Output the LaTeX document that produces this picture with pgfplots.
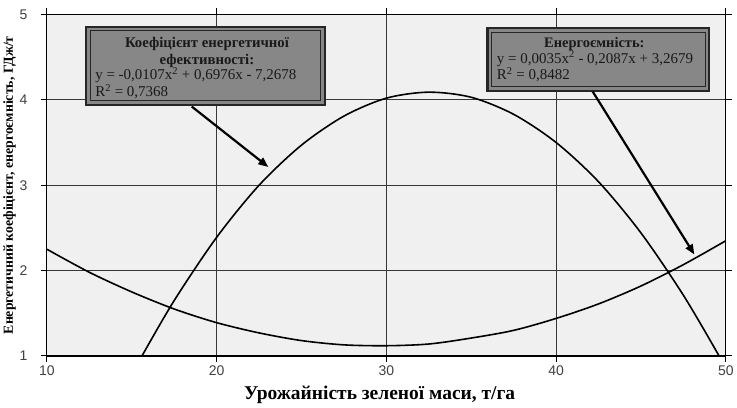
\documentclass[border=0pt]{standalone}
\usepackage{pgfplots}
\pgfplotsset{compat=1.18}
\usepackage{fontspec}
\setmainfont{Liberation Serif}
\newfontfamily\arialf{Liberation Sans}
\usetikzlibrary{arrows.meta}
\definecolor{plotbg}{RGB}{240,240,240}
\definecolor{boxfill}{RGB}{135,135,135}
\definecolor{gridc}{RGB}{55,55,55}
\begin{document}
\begin{tikzpicture}
\begin{axis}[
  scale only axis,
  width=680pt, height=342pt,
  xmin=10, xmax=50, ymin=1, ymax=5,
  xtick={10,20,30,40,50}, ytick={1,2,3,4,5},
  grid=major,
  major grid style={gridc, line width=1.1pt},
  axis line style={black, line width=1.1pt},
  tick style={black, line width=1pt},
  tick align=outside,
  major tick length=6pt,
  axis background/.style={fill=plotbg},
  ticklabel style={font=\arialf\fontsize{14}{14}\selectfont, text=black!75},
  yticklabel style={xshift=-10pt},
  /pgf/number format/assume math mode=true,
  xlabel={\textbf{Урожайність зеленої маси, т/га}},
  xlabel style={font=\fontsize{19.5}{19.5}\selectfont, at={(axis description cs:0.49,0)}, anchor=center, yshift=-39pt},
  ylabel={\textbf{Енергетичний коефіцієнт, енергоємність, ГДж/т}},
  ylabel style={font=\fontsize{13.8}{13.8}\selectfont, at={(axis description cs:-0.055,0.5)}, anchor=center},
  clip=true,
]
% energy efficiency coefficient
\addplot[black, line width=1.6pt, smooth] coordinates {
 (15.6,1.00) (17.5,1.65) (20,2.39) (22.5,3.00) (25,3.47) (27.5,3.81)
 (30,4.02) (32.5,4.09) (35,4.03) (37.5,3.83) (40,3.50) (42.5,3.04)
 (45,2.44) (47.5,1.71) (49.6,1.00)
};
% energy intensity
\addplot[black, line width=1.6pt, smooth] coordinates {
 (10,2.25) (12.5,1.98) (15,1.75) (17.5,1.55) (20,1.39) (22.5,1.27)
 (25,1.18) (27.5,1.13) (30,1.12) (32.5,1.14) (35,1.21) (37.5,1.30)
 (40,1.44) (42.5,1.61) (45,1.82) (47.5,2.07) (50,2.35)
};
% annotation boxes
\draw[black!85, line width=2.2pt, fill=boxfill] (axis cs:12.31,3.942) rectangle (axis cs:26.37,4.857);
\draw[black!85, line width=0.6pt] (axis cs:12.55,3.99) rectangle (axis cs:26.13,4.81);
\node[font=\bfseries\fontsize{14.8}{14.8}\selectfont, text=black!90] at (axis cs:19.43,4.650) {Коефіцієнт енергетичної};
\node[font=\bfseries\fontsize{14.8}{14.8}\selectfont, text=black!90] at (axis cs:19.43,4.458) {ефективності:};
\node[anchor=west, inner sep=0pt, font=\fontsize{15}{15}\selectfont, text=black!90] at (axis cs:12.84,4.285) {y = -0,0107x\textsuperscript{2} + 0,6976x - 7,2678};
\node[anchor=west, inner sep=0pt, font=\fontsize{15}{15}\selectfont, text=black!90] at (axis cs:12.84,4.095) {R\textsuperscript{2} = 0,7368};
\draw[black!85, line width=2.2pt, fill=boxfill] (axis cs:35.96,4.106) rectangle (axis cs:49.02,4.84);
\draw[black!85, line width=0.6pt] (axis cs:36.2,4.153) rectangle (axis cs:48.78,4.793);
\node[font=\bfseries\fontsize{14.5}{14.5}\selectfont, text=black!90] at (axis cs:42.25,4.650) {Енергоємність:};
\node[anchor=west, inner sep=0pt, font=\fontsize{15}{15}\selectfont, text=black!90] at (axis cs:36.5,4.483) {y = 0,0035x\textsuperscript{2} - 0,2087x + 3,2679};
\node[anchor=west, inner sep=0pt, font=\fontsize{15}{15}\selectfont, text=black!90] at (axis cs:36.5,4.292) {R\textsuperscript{2} = 0,8482};
% arrows
\draw[black, line width=2.2pt, -{Triangle[length=10pt,width=8pt]}] (axis cs:18.53,3.922) -- (axis cs:23.04,3.214);
\draw[black, line width=2.2pt, -{Triangle[length=10pt,width=8pt]}] (axis cs:42.15,4.098) -- (axis cs:48.14,2.189);
\end{axis}
\path ([yshift=14.5pt]current axis.north) -- ++(0,0);
\end{tikzpicture}
\end{document}
